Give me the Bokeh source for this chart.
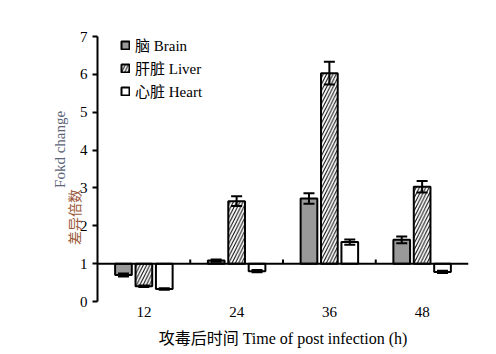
import math
from bokeh.plotting import figure
from bokeh.models import (ColumnDataSource, Range1d, FixedTicker, Span, Whisker,
                          TeeHead, Legend, LegendItem, Label)
from bokeh.embed import file_html
from bokeh.resources import INLINE

# ---- data ----
times = ["12", "24", "36", "48"]
brain = [0.70, 1.08, 2.72, 1.63]
brain_err = [0.04, 0.03, 0.14, 0.09]
liver = [0.40, 2.65, 6.03, 3.03]
liver_err = [0.02, 0.13, 0.30, 0.15]
heart = [0.33, 0.80, 1.57, 0.78]
heart_err = [0.02, 0.03, 0.07, 0.03]
series_names = ["脑 Brain", "肝脏 Liver", "心脏 Heart"]
y_ticks = [0, 1, 2, 3, 4, 5, 6, 7]
baseline = 1.0

FONT = "'Liberation Serif', 'Noto Sans CJK SC', serif"

p = figure(width=496, height=354, output_backend="svg", toolbar_location=None,
           x_range=Range1d(0.5, len(times) + 0.5), y_range=Range1d(0, 7),
           min_border_left=97, min_border_right=28, min_border_top=36,
           min_border_bottom=53)
p.outline_line_color = None
p.xgrid.visible = False
p.ygrid.visible = False
p.background_fill_color = "white"
p.border_fill_color = "white"

idx = list(range(1, len(times) + 1))
offsets = [-0.22, 0.0, 0.22]
bw = 0.18
series = [brain, liver, heart]
errs = [brain_err, liver_err, heart_err]
styles = [
    dict(fill_color="#999999"),
    dict(fill_color="white", hatch_pattern="/", hatch_color="black",
         hatch_scale=6.5, hatch_weight=1),
    dict(fill_color="white"),
]

items = []
for k in range(3):
    xs = [i + offsets[k] for i in idx]
    src = ColumnDataSource(dict(x=xs, top=series[k], bottom=[baseline] * len(xs),
                                upper=[v + e for v, e in zip(series[k], errs[k])],
                                lower=[v - e for v, e in zip(series[k], errs[k])]))
    r = p.vbar(x="x", top="top", bottom="bottom", width=bw, source=src,
               line_color="black", line_width=2, **styles[k])
    items.append(LegendItem(label=series_names[k], renderers=[r]))
    w = Whisker(base="x", upper="upper", lower="lower", source=src,
                line_color="black", line_width=2, level="overlay",
                upper_head=TeeHead(size=11, line_width=2, line_color="black"),
                lower_head=TeeHead(size=11, line_width=2, line_color="black"))
    p.add_layout(w)

# baseline axis at y=1
p.add_layout(Span(location=baseline, dimension="width", line_color="black",
                  line_width=2))
bounds = [i + 0.5 for i in idx[:-1]]
p.segment(x0=bounds, x1=bounds, y0=[baseline] * len(bounds),
          y1=[baseline + 0.11] * len(bounds), line_color="black", line_width=2)

# axes
p.yaxis.ticker = FixedTicker(ticks=y_ticks)
p.yaxis.axis_line_width = 2
p.yaxis.major_tick_line_width = 2
p.yaxis.major_tick_out = 5
p.yaxis.major_tick_in = 0
p.yaxis.minor_tick_line_color = None
p.yaxis.major_label_text_font = FONT
p.yaxis.major_label_text_font_size = "15px"
p.yaxis.major_label_text_color = "black"
p.yaxis.major_label_standoff = 5

p.xaxis.ticker = FixedTicker(ticks=idx)
p.xaxis.major_label_overrides = {i: t for i, t in zip(idx, times)}
p.xaxis.axis_line_color = None
p.xaxis.major_tick_line_color = None
p.xaxis.minor_tick_line_color = None
p.xaxis.major_label_text_font = FONT
p.xaxis.major_label_text_font_size = "15px"
p.xaxis.major_label_text_color = "black"
p.xaxis.major_label_standoff = -1
p.xaxis.axis_label = "攻毒后时间 Time of post infection (h)"
p.xaxis.axis_label_text_font = FONT
p.xaxis.axis_label_text_font_size = "16px"
p.xaxis.axis_label_text_font_style = "normal"
p.xaxis.axis_label_text_color = "black"
p.xaxis.axis_label_standoff = 10

# y label in two colours, placed in the left side panel
p.add_layout(Label(x=14, x_units="screen", y=1.49, text="差异倍数",
                   angle=90, angle_units="deg",
                   text_align="left", text_baseline="middle",
                   text_font=FONT, text_font_size="14px", text_color="#9c5a3c"),
             "left")
p.add_layout(Label(x=14, x_units="screen", y=3.0, text="Fokd change",
                   angle=90, angle_units="deg",
                   text_align="left", text_baseline="middle",
                   text_font=FONT, text_font_size="15px", text_color="#5b6478"),
             "left")

legend = Legend(items=items, location=(23, 200), orientation="vertical")
legend.border_line_color = None
legend.background_fill_alpha = 0
legend.padding = 0
legend.margin = 0
legend.spacing = 2
legend.glyph_width = 10
legend.glyph_height = 10
legend.label_height = 18
legend.label_standoff = 5
legend.label_text_font = FONT
legend.label_text_font_size = "15px"
legend.label_text_color = "black"
p.add_layout(legend)

open("out.html", "w").write(file_html(p, INLINE))
